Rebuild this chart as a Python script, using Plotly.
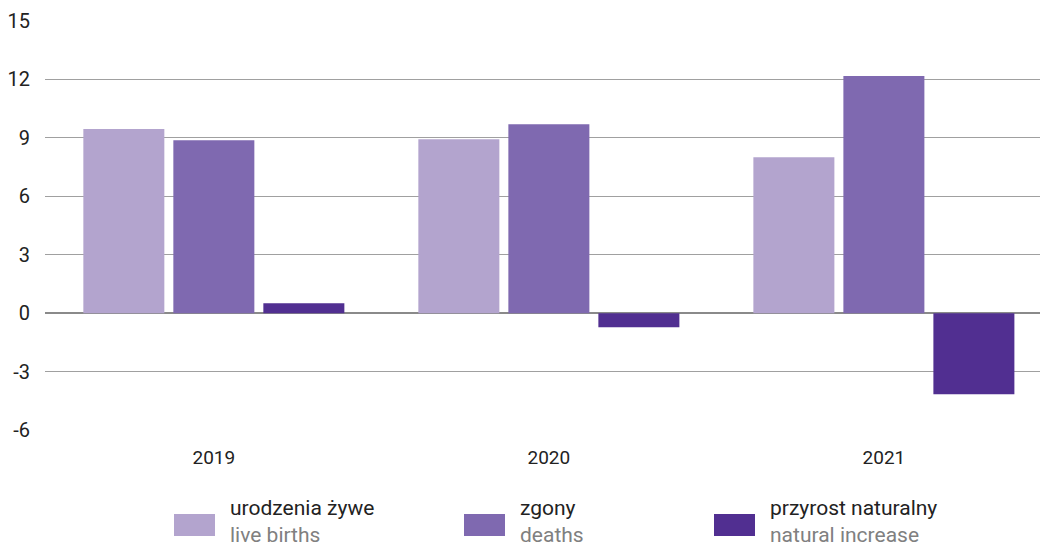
import plotly.graph_objects as go

years = ["2019", "2020", "2021"]
live_births = [9.45, 8.93, 8.01]
deaths = [8.88, 9.70, 12.17]
natural_increase = [0.51, -0.72, -4.16]

series_pl = ["urodzenia żywe", "zgony", "przyrost naturalny"]
series_en = ["live births", "deaths", "natural increase"]
colors = ["#b3a4ce", "#7f69b0", "#512f91"]
values = [live_births, deaths, natural_increase]

y_ticks = [-6, -3, 0, 3, 6, 9, 12, 15]
y_ticktext = ["-6", "-3", "0", "3", "6", "9", "12", "15"]

FONT = "Roboto, sans-serif"

fig = go.Figure()
for name, vals, col in zip(series_pl, values, colors):
    fig.add_trace(go.Bar(x=years, y=vals, name=name, marker=dict(color=col, line=dict(width=0)),
                         showlegend=False))

# custom legend
legend_x = [174, 464, 714]
for i, (pl, en, col) in enumerate(zip(series_pl, series_en, colors)):
    fig.add_shape(type="rect", xref="paper", yref="paper",
                  x0=(legend_x[i] - 45) / 995, x1=(legend_x[i] + 41 - 45) / 995,
                  y0=-(536 - 430) / 409, y1=-(514 - 430) / 409,
                  fillcolor=col, line=dict(width=0))
    fig.add_annotation(xref="paper", yref="paper",
                       x=(legend_x[i] + 54 - 45) / 995, y=-(494 - 430) / 409,
                       xanchor="left", yanchor="top", align="left", showarrow=False,
                       text=f"<span style='color:#222222'>{pl}</span><br><span style='color:#808080'>{en}</span>",
                       font=dict(family=FONT, size=21))

fig.update_layout(
    width=1040, height=548,
    margin=dict(l=45, r=0, t=21, b=118),
    paper_bgcolor="white", plot_bgcolor="white",
    barmode="group", bargap=0.194, bargroupgap=0.1,
    font=dict(family=FONT, size=18, color="#222222"),
    xaxis=dict(range=[-0.504, 2.466], showgrid=False, zeroline=False, showline=False,
               ticks="", tickfont=dict(size=19), ticklabelstandoff=14),
    yaxis=dict(range=[-6, 15], tickvals=y_ticks, ticktext=y_ticktext,
               showgrid=True, gridcolor="#a0a0a0", gridwidth=1,
               zeroline=True, zerolinecolor="#8a8a8a", zerolinewidth=1.5,
               showline=False, ticks="", tickfont=dict(size=20), ticklabelstandoff=14),
)

fig.write_html("out.html", config={"displayModeBar": False},
               post_script="document.body.style.margin='0';document.body.style.overflow='hidden';")
